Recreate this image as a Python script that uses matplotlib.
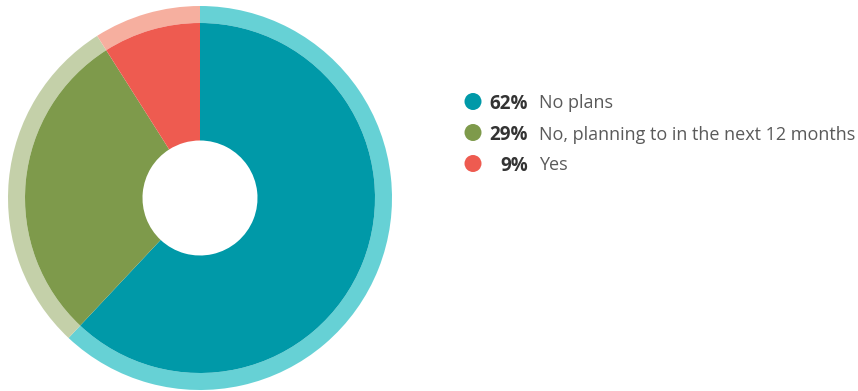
import matplotlib
matplotlib.use("Agg")
import matplotlib.pyplot as plt
from matplotlib.patches import Circle

# Survey response shares
labels = ["No plans", "No, planning to in the next 12 months", "Yes"]
values = [62, 29, 9]
pct_text = ["62%", "29%", "9%"]

dark_colors = ["#0099A8", "#7E9A4B", "#EE5B50"]
light_colors = ["#66D1D5", "#C4D0A9", "#F6AF9F"]

W, H = 858, 391
fig = plt.figure(figsize=(W / 100, H / 100), dpi=100)
ax = fig.add_axes([0, 0, 1, 1])

cx, cy = 200, H - 198
r_outer, r_mid, r_hole = 192, 175, 57.5

ax.pie(values, colors=light_colors, radius=r_outer, center=(cx, cy),
       startangle=90, counterclock=False,
       wedgeprops=dict(width=r_outer - r_mid, linewidth=0), frame=True)
ax.pie(values, colors=dark_colors, radius=r_mid, center=(cx, cy),
       startangle=90, counterclock=False,
       wedgeprops=dict(width=r_mid - r_hole, linewidth=0), frame=True)
ax.set_xlim(0, W)
ax.set_ylim(0, H)
ax.set_aspect("equal")
ax.axis("off")

font = "Open Sans"
row_y = [101.5, 132.5, 163.5]
for i, (lab, pt) in enumerate(zip(labels, pct_text)):
    y = H - row_y[i]
    ax.add_patch(Circle((473, y), 8.5, color=dark_colors[i], linewidth=0))
    ax.text(528, y, pt, ha="right", va="center_baseline", fontsize=13.5,
            fontweight="bold", color="#333333", family=font)
    ax.text(539, y, lab, ha="left", va="center_baseline", fontsize=13,
            color="#5a5a5a", family=font)

fig.savefig("out.png", dpi=100)
